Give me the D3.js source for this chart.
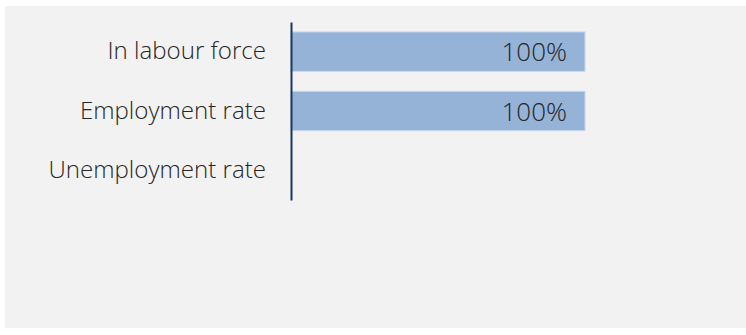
<!DOCTYPE html>
<html>
<head>
<meta charset="utf-8">
<script src="https://cdn.jsdelivr.net/npm/d3@7"></script>
<style>
  html, body { margin: 0; padding: 0; background: #ffffff; }
  svg { display: block; }
  text { font-family: "Open Sans", "Noto Sans", sans-serif; font-weight: 300; }
</style>
</head>
<body>
<svg id="chart" width="746" height="335"></svg>
<script>
const categories = ["In labour force", "Employment rate", "Unemployment rate"];
const values = [1.0, 1.0, null];
const valueLabels = ["100%", "100%", ""];

const svg = d3.select("#chart");
const W = 746, H = 335;

svg.append("rect")
  .attr("x", 5).attr("y", 6)
  .attr("width", W - 5).attr("height", 322)
  .attr("fill", "#f2f2f2");

const y = d3.scaleBand()
  .domain(categories)
  .range([22, 200])
  .paddingInner(0.335)
  .paddingOuter(0.1675);

const x = d3.scaleLinear().domain([0, 1]).range([291, 585]);

const data = categories.map((c, i) => ({ c, v: values[i], label: valueLabels[i] }));

svg.append("g").selectAll("rect")
  .data(data.filter(d => d.v != null))
  .join("rect")
  .attr("x", x(0))
  .attr("y", d => y(d.c))
  .attr("width", d => x(d.v) - x(0))
  .attr("height", y.bandwidth())
  .attr("fill", "#95b3d7")
  .attr("stroke", "#c9d8ec")
  .attr("stroke-width", 1);

svg.append("g").selectAll("text")
  .data(data.filter(d => d.v != null))
  .join("text")
  .attr("x", d => x(d.v) - 18)
  .attr("y", d => y(d.c) + y.bandwidth() / 2)
  .attr("dy", "0.37em")
  .attr("text-anchor", "end")
  .attr("font-size", 26)
  .attr("fill", "#262626")
  .text(d => d.label);

const yAxis = d3.axisLeft(y).tickSize(0).tickPadding(25);
const gy = svg.append("g")
  .attr("transform", `translate(${x(0)},0)`)
  .call(yAxis);
gy.select(".domain").attr("stroke", "#1f3459").attr("stroke-width", 2);
gy.selectAll("text")
  .attr("font-size", 24.1)
  .attr("fill", "#262626")
  .attr("font-family", "'Open Sans', 'Noto Sans', sans-serif")
  .attr("font-weight", 300);
</script>
</body>
</html>
